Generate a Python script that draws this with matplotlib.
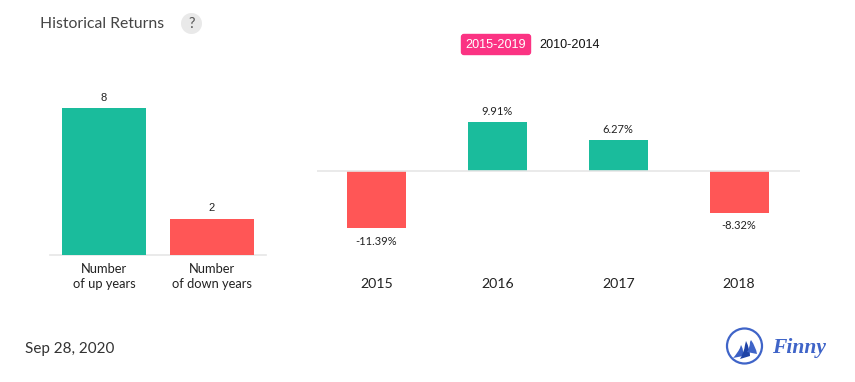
import matplotlib
matplotlib.use('Agg')
import matplotlib.pyplot as plt
from matplotlib.patches import Circle, FancyBboxPatch, PathPatch
from matplotlib.path import Path

W, H = 855, 382

count_labels = ['Number\nof up years', 'Number\nof down years']
count_values = [8, 2]

years = ['2015', '2016', '2017', '2018']
returns = [-11.39, 9.91, 6.27, -8.32]

GREEN = '#1abc9c'
RED = '#ff5656'
GRID = '#e6e6e6'
LATO = 'Lato'
ARIAL = 'Liberation Sans'


def px_axes(fig, left, top, right, bottom):
    return fig.add_axes([left / W, 1 - bottom / H, (right - left) / W, (bottom - top) / H])


fig = plt.figure(figsize=(W / 100, H / 100), dpi=100, facecolor='white')

# left chart
ax1 = px_axes(fig, 50, 108.4, 266, 255.4)
ax1.bar(range(2), count_values, width=0.778, color=[GREEN, RED], zorder=2)
ax1.set_xlim(-0.5, 1.5)
ax1.set_ylim(0, 8)
ax1.axhline(0, color=GRID, lw=1.2, zorder=1, clip_on=False)
ax1.axis('off')
for i, v in enumerate(count_values):
    ax1.annotate(str(v), (i, v), xytext=(-0.4, 3.8), textcoords='offset points',
                 ha='center', va='bottom', fontsize=8, family=ARIAL, color='#222222')
    ax1.annotate(count_labels[i], (i, 0), xytext=(0, -5.5), textcoords='offset points',
                 ha='center', va='top', fontsize=9.3, family=LATO, color='#222222',
                 linespacing=1.3)

# right chart
ax2 = px_axes(fig, 316.5, 122.0, 799.5, 228.0)
ax2.bar(range(4), returns, width=0.488,
        color=[GREEN if r > 0 else RED for r in returns], zorder=2)
ax2.set_xlim(-0.5, 3.5)
ax2.set_ylim(-11.39, 9.91)
ax2.axhline(0, color=GRID, lw=1.2, zorder=3)
ax2.axis('off')
for i, r in enumerate(returns):
    off = 3.5 if r > 0 else -5.5
    ax2.annotate('%.2f%%' % r, (i, r), xytext=(-0.3, off), textcoords='offset points',
                 ha='center', va='bottom' if r > 0 else 'top', fontsize=8.0,
                 family=LATO, color='#222222')
    ax2.annotate(years[i], (i, -11.39), xytext=(0, -40.5), textcoords='offset points',
                 ha='center', va='center', fontsize=10.2, family=LATO, color='#222222')

# page furniture in pixel coordinates
page = fig.add_axes([0, 0, 1, 1], zorder=5)
page.set_xlim(0, W)
page.set_ylim(H, 0)
page.axis('off')
page.patch.set_alpha(0)

page.text(40, 23.5, 'Historical Returns', fontsize=11.3, family=LATO, color='#444444',
          ha='left', va='center')
page.add_patch(Circle((191.5, 23.5), 10.5, color='#e9e9e9', lw=0))
page.text(191.5, 23.5, '?', fontsize=10.5, family=LATO, color='#555555', ha='center', va='center')

page.add_patch(FancyBboxPatch((461.5, 34.5), 69, 20, boxstyle='round,pad=0,rounding_size=2.5',
                              fc='#fb3383', ec='#fb3383', lw=1))
page.text(496, 45, '2015-2019', fontsize=9.1, family=ARIAL, color='white', ha='center', va='center')
page.text(570, 45, '2010-2014', fontsize=9.1, family=ARIAL, color='#111111', ha='center', va='center')

page.text(25, 349, 'Sep 28, 2020', fontsize=11.0, family=LATO, color='#333333', ha='left', va='center')

# Finny logo: ring and three curved sails
BLUE = '#3f64c8'
page.add_patch(Circle((744.5, 346), 17.5, fc='none', ec=BLUE, lw=1.6))
sails = [
    ([(733, 358), (737, 354), (740, 348), (741, 345), (744, 350), (743, 356), (742, 360)], '#3a5fc4'),
    ([(740, 359), (744, 353), (745, 345), (746, 341), (750, 349), (750, 356), (748, 360)], '#1f43a6'),
    ([(747, 352), (750, 348), (750, 342), (751, 340), (756, 347), (757, 354), (751, 360)], BLUE),
]
for pts, col in sails:
    codes = [Path.MOVETO, Path.CURVE3, Path.CURVE3, Path.LINETO, Path.CURVE3, Path.CURVE3, Path.CLOSEPOLY]
    page.add_patch(PathPatch(Path(pts, codes), fc=col, lw=0))
page.text(772, 348, 'Finny', fontsize=15.5, family='Liberation Serif', style='italic', weight='bold',
          color=BLUE, ha='left', va='center')

fig.savefig('out.png', dpi=100)
